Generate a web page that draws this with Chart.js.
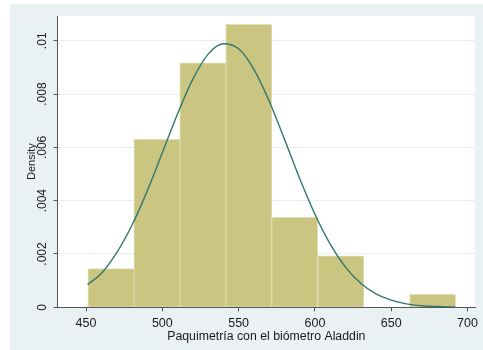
<!DOCTYPE html>
<html lang="en">
<head>
<meta charset="utf-8">
<title>Paquimetria histogram</title>
<style>
body { margin: 0; background: #fff; }
.frame { position: absolute; left: 10px; top: 4px; width: 473px; height: 346px; background: #e9f1f3; }
</style>
</head>
<body>
<div class="frame"><canvas id="canvas" width="473" height="346"></canvas></div>

<script src="https://cdn.jsdelivr.net/npm/chart.js"></script>
<script>
// histogram bins (centres of 30.1 wide bins) and their densities
const binCenters = [466.3, 496.4, 526.5, 556.6, 586.7, 616.9, 647.0, 677.1];
const binDensity = [0.00145, 0.0063, 0.00917, 0.01062, 0.00338, 0.00193, 0, 0.00049];

// normal density curve
const curveX = [451, 460, 470, 480, 490, 500, 510, 520, 530, 540, 550, 560, 570,
                580, 590, 600, 610, 620, 630, 640, 650, 660, 670, 680, 692];
const curveY = [0.00085, 0.00127, 0.00204, 0.00307, 0.00435, 0.00580, 0.00726, 0.00856,
                0.00950, 0.00989, 0.00970, 0.00893, 0.00774, 0.00631, 0.00483, 0.00349,
                0.00237, 0.00151, 0.00090, 0.00050, 0.00027, 0.00013, 0.00006, 0.00003, 0.00001];

const xTicks = [450, 500, 550, 600, 650, 700];
const yTicks = [0, 0.002, 0.004, 0.006, 0.008, 0.01];
const yTickLabels = ['0', '.002', '.004', '.006', '.008', '.01'];

const FONT = 'Liberation Sans, Arial, sans-serif';

const barData = [];
binCenters.forEach((c, i) => { if (binDensity[i] > 0) barData.push({x: c, y: binDensity[i]}); });
const lineData = curveX.map((x, i) => ({x: x, y: curveY[i]}));

// white plot region + rotated y labels (Stata style)
const stataBits = {
  id: 'stataBits',
  beforeDraw(chart) {
    const a = chart.chartArea, c = chart.ctx;
    c.save();
    c.fillStyle = '#ffffff';
    c.fillRect(a.left, a.top, a.right - a.left, a.bottom - a.top);
    c.restore();
  },
  afterDraw(chart) {
    const c = chart.ctx, ys = chart.scales.y, xs = chart.scales.x;
    c.save();
    c.fillStyle = '#1a1a1a';
    c.font = '12px ' + FONT;
    c.textAlign = 'center';
    c.textBaseline = 'alphabetic';
    yTicks.forEach((v, i) => {
      c.save();
      c.translate(35.5, ys.getPixelForValue(v));
      c.rotate(-Math.PI / 2);
      c.fillText(yTickLabels[i], 0, 0);
      c.restore();
    });
    c.font = '11px ' + FONT;
    c.save();
    c.translate(25, (ys.top + ys.bottom) / 2);
    c.rotate(-Math.PI / 2);
    c.fillText('Density', 0, 0);
    c.restore();
    c.font = '12.3px ' + FONT;
    c.fillText('Paquimetría con el biómetro Aladdin', (xs.left + xs.right) / 2, 336);
    c.restore();
  }
};

new Chart(document.getElementById('canvas'), {
  type: 'bar',
  data: {
    datasets: [
      {
        type: 'line',
        data: lineData,
        borderColor: '#33776f',
        borderWidth: 1.4,
        pointRadius: 0,
        cubicInterpolationMode: 'monotone',
        fill: false,
        order: 0
      },
      {
        data: barData,
        backgroundColor: '#cbc582',
        borderColor: '#e2dfb4',
        borderWidth: {left: 1, top: 1, right: 0, bottom: 0},
        borderSkipped: false,
        barPercentage: 1,
        categoryPercentage: 1,
        grouped: false,
        order: 1
      }
    ]
  },
  options: {
    responsive: false,
    devicePixelRatio: 1,
    animation: false,
    layout: { padding: {left: 0, right: 2, top: 12, bottom: 0} },
    plugins: { legend: {display: false}, tooltip: {enabled: false} },
    scales: {
      x: {
        type: 'linear',
        min: 431.3,
        max: 705,
        offset: false,
        afterBuildTicks: s => { s.ticks = xTicks.map(v => ({value: v})); },
        afterFit: s => { s.height = 42.7; },
        grid: { display: true, drawOnChartArea: false, offset: false, drawTicks: true, tickLength: 4, tickColor: '#555' },
        border: { color: '#555', width: 1 },
        ticks: { color: '#1a1a1a', font: {family: FONT, size: 12.5}, padding: 5, maxRotation: 0 }
      },
      y: {
        min: 0,
        max: 0.01093,
        afterBuildTicks: s => { s.ticks = yTicks.map(v => ({value: v})); },
        afterFit: s => { s.width = 47.5; },
        grid: { color: '#e6eff1', lineWidth: 1, drawTicks: true, tickLength: 4, tickColor: '#555' },
        border: { color: '#555', width: 1 },
        ticks: { display: false }
      }
    }
  },
  plugins: [stataBits]
});
</script>
</body>
</html>
